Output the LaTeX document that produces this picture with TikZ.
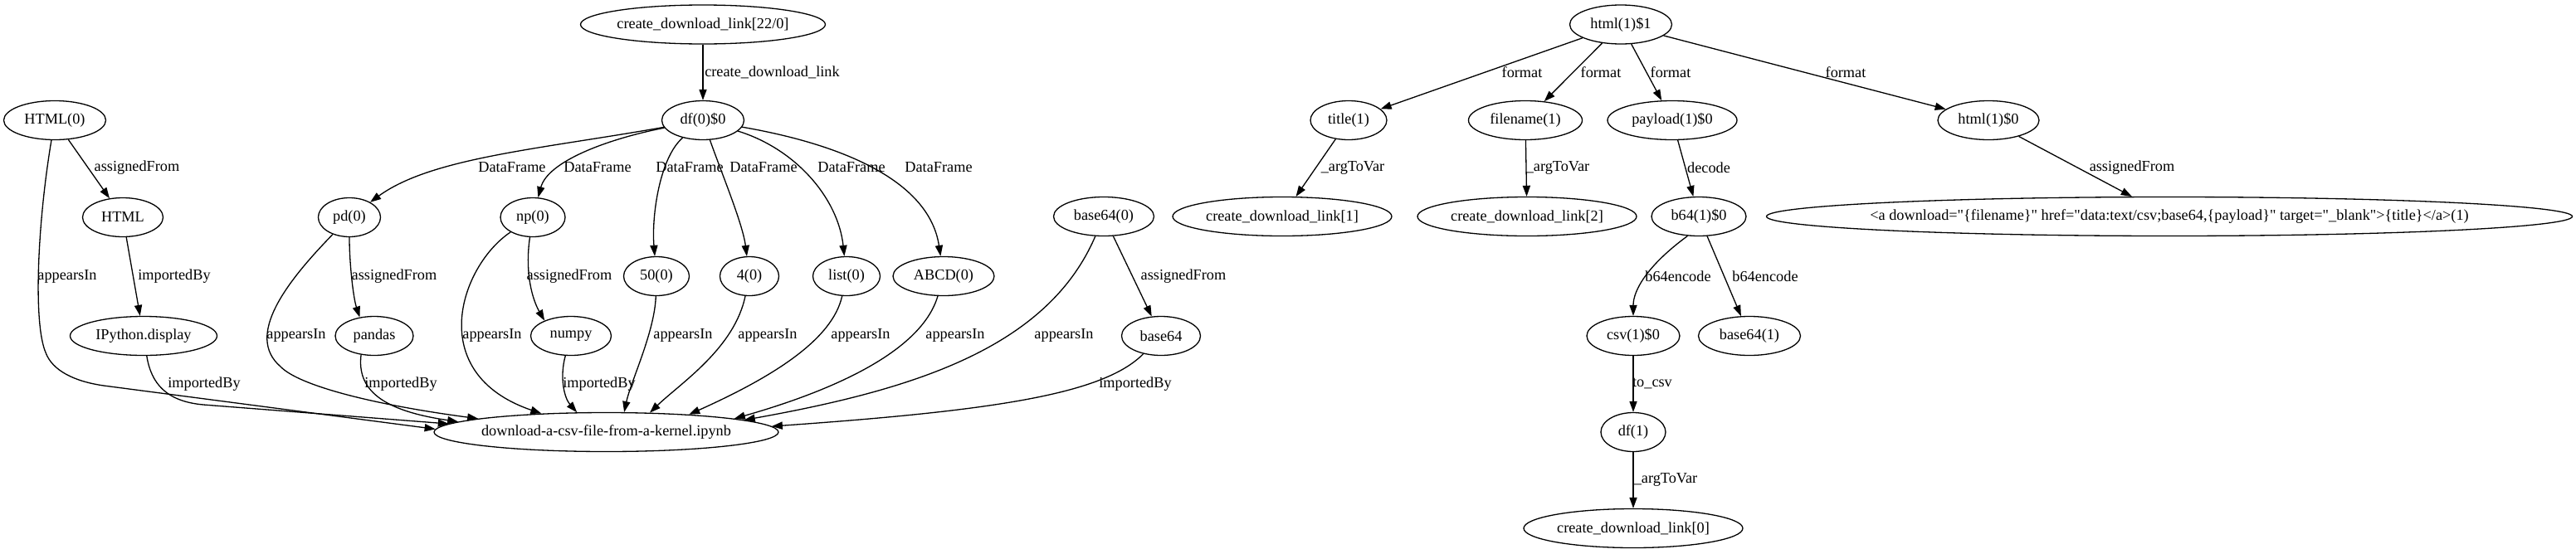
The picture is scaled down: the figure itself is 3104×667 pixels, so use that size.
\documentclass[tikz,border=0pt]{standalone}
\usepackage{fontspec}
\setmainfont{Liberation Serif}[Ligatures=TeXOff]
\usetikzlibrary{shapes.geometric,arrows.meta}
\begin{document}
\begin{tikzpicture}[x=0.766pt,y=-0.766pt,
  every node/.style={font=\fontsize{14pt}{17pt}\selectfont},
  nd/.style={draw, ellipse, line width=1pt, inner sep=0pt, minimum height=36pt, minimum width=#1*0.766pt},
  lb/.style={inner sep=0pt},
  e/.style={line width=1pt, -{Triangle[length=10pt,width=7pt]}},
]
\fill[white] (0,0) rectangle (3104,667);
\useasboundingbox (0,0) rectangle (3104,667);

% ---- nodes, left cluster
\node[nd=295] (cdl22) at (847,29.5) {create\_download\_link[22/0]};
\node[nd=99] (df0) at (847,145) {df(0)\$0};
\node[nd=123] (html0) at (66,145) {HTML(0)};
\node[nd=97] (htmlm) at (148,262) {HTML};
\node[nd=75] (pd) at (421,262) {pd(0)};
\node[nd=78] (np) at (642,262) {np(0)};
\node[nd=79] (n50) at (791,333) {50(0)};
\node[nd=71] (n4) at (903,333) {4(0)};
\node[nd=81] (lst) at (1020,333) {list(0)};
\node[nd=122] (abcd) at (1137,333) {ABCD(0)};
\node[nd=177] (ipy) at (173,405) {IPython.display};
\node[nd=94] (pandas) at (451,405) {pandas};
\node[nd=97] (numpy) at (688,405) {numpy};
\node[nd=415] (dl) at (730.5,521) {};
\node[lb] (dltext) at (dl.center) {download-a-csv-file-from-a-kernel.ipynb};
\node[nd=121] (b640) at (1330,261) {base64(0)};
\node[nd=95] (b64m) at (1399,405) {base64};

% ---- nodes, right cluster
\node[nd=123] (html1) at (1953,29.5) {html(1)\$1};
\node[nd=92] (title) at (1625,145) {title(1)};
\node[nd=137] (fname) at (1838,145) {filename(1)};
\node[nd=156] (payload) at (2015,145) {payload(1)\$0};
\node[nd=122] (html10) at (2396,145) {html(1)\$0};
\node[nd=264] (cdl1) at (1545,261) {create\_download\_link[1]};
\node[nd=264] (cdl2) at (1840,261) {create\_download\_link[2]};
\node[nd=114] (b64one) at (2047,261) {b64(1)\$0};
\node[nd=971] (atag) at (2614,261) {};
\node[lb] (atagtext) at (atag.center) {<a download="\{filename\}" href="data:text/csv;base64,\{payload\}" target="\_blank">\{title\}</a>(1)};
\node[nd=112] (csv) at (1968,405) {csv(1)\$0};
\node[nd=123] (b641) at (2108,405) {base64(1)};
\node[nd=78] (df1) at (1968,521) {df(1)};
\node[nd=264] (cdl0) at (1968,637) {create\_download\_link[0]};

% ---- edges, left cluster
\draw[e] (cdl22) -- (df0);
\draw[e] (df0) .. controls (650,180) and (520,190) .. (pd);
\draw[e] (df0) .. controls (730,168) and (660,195) .. (np);
\draw[e] (df0) .. controls (795,190) and (785,260) .. (n50);
\draw[e] (df0) .. controls (870,210) and (895,270) .. (n4);
\draw[e] (df0) .. controls (960,180) and (1010,240) .. (lst);
\draw[e] (df0) .. controls (1020,175) and (1120,220) .. (abcd);
\draw[e] (html0) -- (htmlm);
\draw[e] (html0) .. controls (45,270) and (40,390) .. (55,425) .. controls (63,447) and (90,460) .. (125,465) -- (dl.179);
\draw[e] (htmlm) -- (ipy);
\draw[e] (ipy) .. controls (182,462) and (200,484) .. (245,488) -- (dl.177.7);
\draw[e] (pd) .. controls (421,320) and (426,360) .. (pandas.128);
\draw[e] (pd) .. controls (345,340) and (295,405) .. (338,442) .. controls (360,465) and (450,488) .. (dl.174.4);
\draw[e] (pandas.235) .. controls (430,470) and (460,495) .. (dl.176.3);
\draw[e] (np) .. controls (632,330) and (642,362) .. (numpy.150);
\draw[e] (np) .. controls (555,320) and (510,450) .. (dl.164.2);
\draw[e] (numpy) .. controls (674,455) and (680,480) .. (dl.146.4);
\draw[e] (n50) .. controls (789,400) and (760,460) .. (dl.48);
\draw[e] (n4) .. controls (885,420) and (820,462) .. (dl.24.3);
\draw[e] (lst) .. controls (1003,410) and (930,455) .. (dl.12.4);
\draw[e] (abcd) .. controls (1110,425) and (1000,472) .. (dl.6.6);
\draw[e] (b640) .. controls (1262,420) and (1100,470) .. (dl.5.66);
\draw[e] (b640) -- (b64m);
\draw[e] (b64m) .. controls (1330,475) and (1200,495) .. (dl.2.2);

% ---- edges, right cluster
\draw[e] (html1) -- (title);
\draw[e] (html1) -- (fname);
\draw[e] (html1) -- (payload);
\draw[e] (html1) -- (html10);
\draw[e] (title) -- (cdl1);
\draw[e] (fname) -- (cdl2);
\draw[e] (payload) -- (b64one);
\draw[e] (html10) -- (atag);
\draw[e] (b64one.240) .. controls (1985,320) and (1968,350) .. (csv);
\draw[e] (b64one) -- (b641);
\draw[e] (csv) -- (df1);
\draw[e] (df1) -- (cdl0);

% ---- edge labels
\node[lb, anchor=west] (l01) at (849,87) {create\_download\_link};
\node[lb] (l02) at (617,202) {DataFrame};
\node[lb] (l03) at (720,202) {DataFrame};
\node[lb] (l04) at (831,202) {DataFrame};
\node[lb] (l05) at (920,202) {DataFrame};
\node[lb] (l06) at (1026,202) {DataFrame};
\node[lb] (l07) at (1131,202) {DataFrame};
\node[lb] (l08) at (165,202) {assignedFrom};
\node[lb] (l09) at (81,333) {appearsIn};
\node[lb] (l10) at (210,333) {importedBy};
\node[lb] (l11) at (475,333) {assignedFrom};
\node[lb] (l12) at (686,333) {assignedFrom};
\node[lb] (l13) at (357,404) {appearsIn};
\node[lb] (l14) at (593,404) {appearsIn};
\node[lb] (l15) at (823,404) {appearsIn};
\node[lb] (l16) at (925,404) {appearsIn};
\node[lb] (l17) at (1037,404) {appearsIn};
\node[lb] (l18) at (1151,404) {appearsIn};
\node[lb] (l19) at (1282,404) {appearsIn};
\node[lb] (l20) at (246,463) {importedBy};
\node[lb] (l21) at (483,463) {importedBy};
\node[lb] (l22) at (722,463) {importedBy};
\node[lb] (l23) at (1368,463) {importedBy};
\node[lb] (l24) at (1426,333) {assignedFrom};
\node[lb] (l25) at (1834,87) {format};
\node[lb] (l26) at (1929,87) {format};
\node[lb] (l27) at (2013,87) {format};
\node[lb] (l28) at (2224,87) {format};
\node[lb] (l29) at (1630,202) {\_argToVar};
\node[lb] (l30) at (1877,202) {\_argToVar};
\node[lb] (l31) at (2059,202) {decode};
\node[lb] (l32) at (2569,202) {assignedFrom};
\node[lb] (l33) at (2022,333) {b64encode};
\node[lb] (l34) at (2127,333) {b64encode};
\node[lb] (l35) at (1991,463) {to\_csv};
\node[lb] (l36) at (2007,578) {\_argToVar};
\end{tikzpicture}
\end{document}
